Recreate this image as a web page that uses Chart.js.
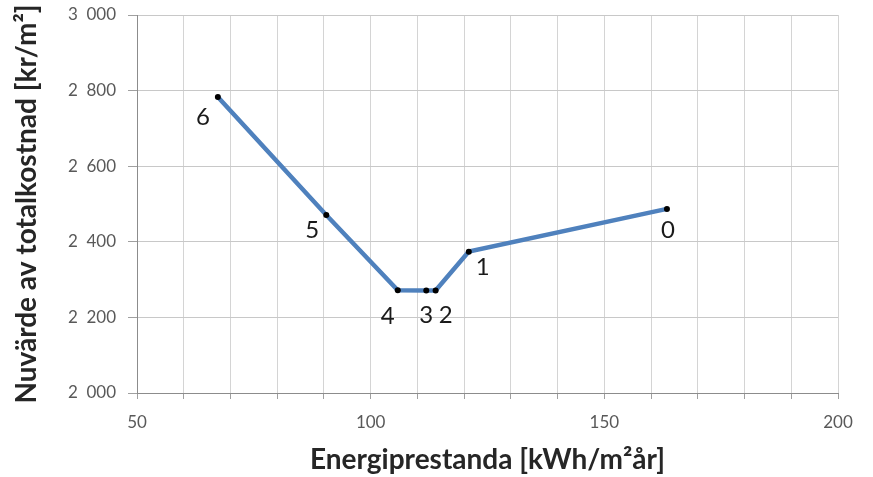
<!DOCTYPE html>
<html>
<head>
<meta charset="utf-8">
<script src="https://cdn.jsdelivr.net/npm/chart.js@4"></script>
<style>
  html, body { margin: 0; padding: 0; background: #fff; }
  #wrap { width: 873px; height: 477px; }
</style>
</head>
<body>
<div id="wrap"><canvas id="data" width="873" height="477"></canvas></div>
<script>
// valeurs
const etiquettes = ["0", "1", "2", "3", "4", "5", "6"];
const energi = [163.4, 121.0, 113.9, 111.9, 105.8, 90.5, 67.3];
const nuvarde = [2487, 2374, 2271, 2271, 2272, 2471, 2783];

const points = energi.map((x, i) => ({ x: x, y: nuvarde[i] }));

// etiquettes a cote des points (decalage en pixels)
const decalages = [[1, 21], [14, 16], [10, 25], [0, 25], [-10, 26], [-14, 15], [-15, 20]];

const pluginEtiquettes = {
  id: "etiquettes",
  afterDatasetsDraw(chart) {
    const ctx = chart.ctx;
    const meta = chart.getDatasetMeta(0);
    ctx.save();
    ctx.font = "24px Lato";
    ctx.fillStyle = "#1a1a1a";
    ctx.textAlign = "center";
    ctx.textBaseline = "middle";
    meta.data.forEach((pt, i) => {
      ctx.fillText(etiquettes[i], pt.x + decalages[i][0], pt.y + decalages[i][1]);
    });
    ctx.restore();
  }
};

function formatNombre(v) {
  return String(v).replace(/\B(?=(\d{3})+(?!\d))/g, "\u2002");
}

const canvas = document.getElementById("data");

const config = {
  type: "scatter",
  data: {
    datasets: [
      {
        data: points,
        showLine: true,
        borderColor: "#4F81BD",
        borderWidth: 4.5,
        pointBackgroundColor: "#000000",
        pointBorderColor: "#000000",
        pointRadius: 3,
        pointBorderWidth: 0
      }
    ]
  },
  options: {
    responsive: false,
    animation: false,
    layout: {
      padding: { top: 15, right: 35, left: 0, bottom: 0 }
    },
    scales: {
      x: {
        type: "linear",
        min: 50,
        max: 200,
        afterFit(axis) { axis.height = 84; },
        ticks: {
          stepSize: 10,
          autoSkip: false,
          maxRotation: 0,
          color: "#595959",
          font: { family: "Lato", size: 17 },
          padding: 13,
          callback: function (v) { return v % 50 === 0 ? v : ""; }
        },
        grid: { color: "#d4d4d4", lineWidth: 1, tickLength: 6, tickColor: "#a0a0a0" },
        border: { color: "#8c8c8c", width: 1 },
        title: {
          display: true,
          text: "Energiprestanda [kWh/m²år]",
          color: "#262626",
          font: { family: "Lato", size: 28, weight: "bold" },
          padding: { top: 0, bottom: 0 }
        }
      },
      y: {
        min: 2000,
        max: 3000,
        afterFit(axis) {
          axis.width = 137;
          axis.paddingTop = 0;
          axis.paddingBottom = 0;
        },
        ticks: {
          stepSize: 200,
          color: "#595959",
          font: { family: "Lato", size: 17 },
          padding: 12,
          callback: function (v) { return formatNombre(v); }
        },
        grid: { color: "#c8c8c8", lineWidth: 1, tickLength: 9, tickColor: "#a0a0a0" },
        border: { color: "#8c8c8c", width: 1 },
        title: {
          display: true,
          text: "Nuvärde av totalkostnad [kr/m²]",
          color: "#262626",
          font: { family: "Lato", size: 28, weight: "bold" },
          padding: { top: 10, bottom: 0 }
        }
      }
    },
    plugins: {
      legend: { display: false },
      tooltip: { enabled: false }
    }
  },
  plugins: [pluginEtiquettes]
};

const monGraphique = new Chart(canvas, config);
</script>
</body>
</html>
